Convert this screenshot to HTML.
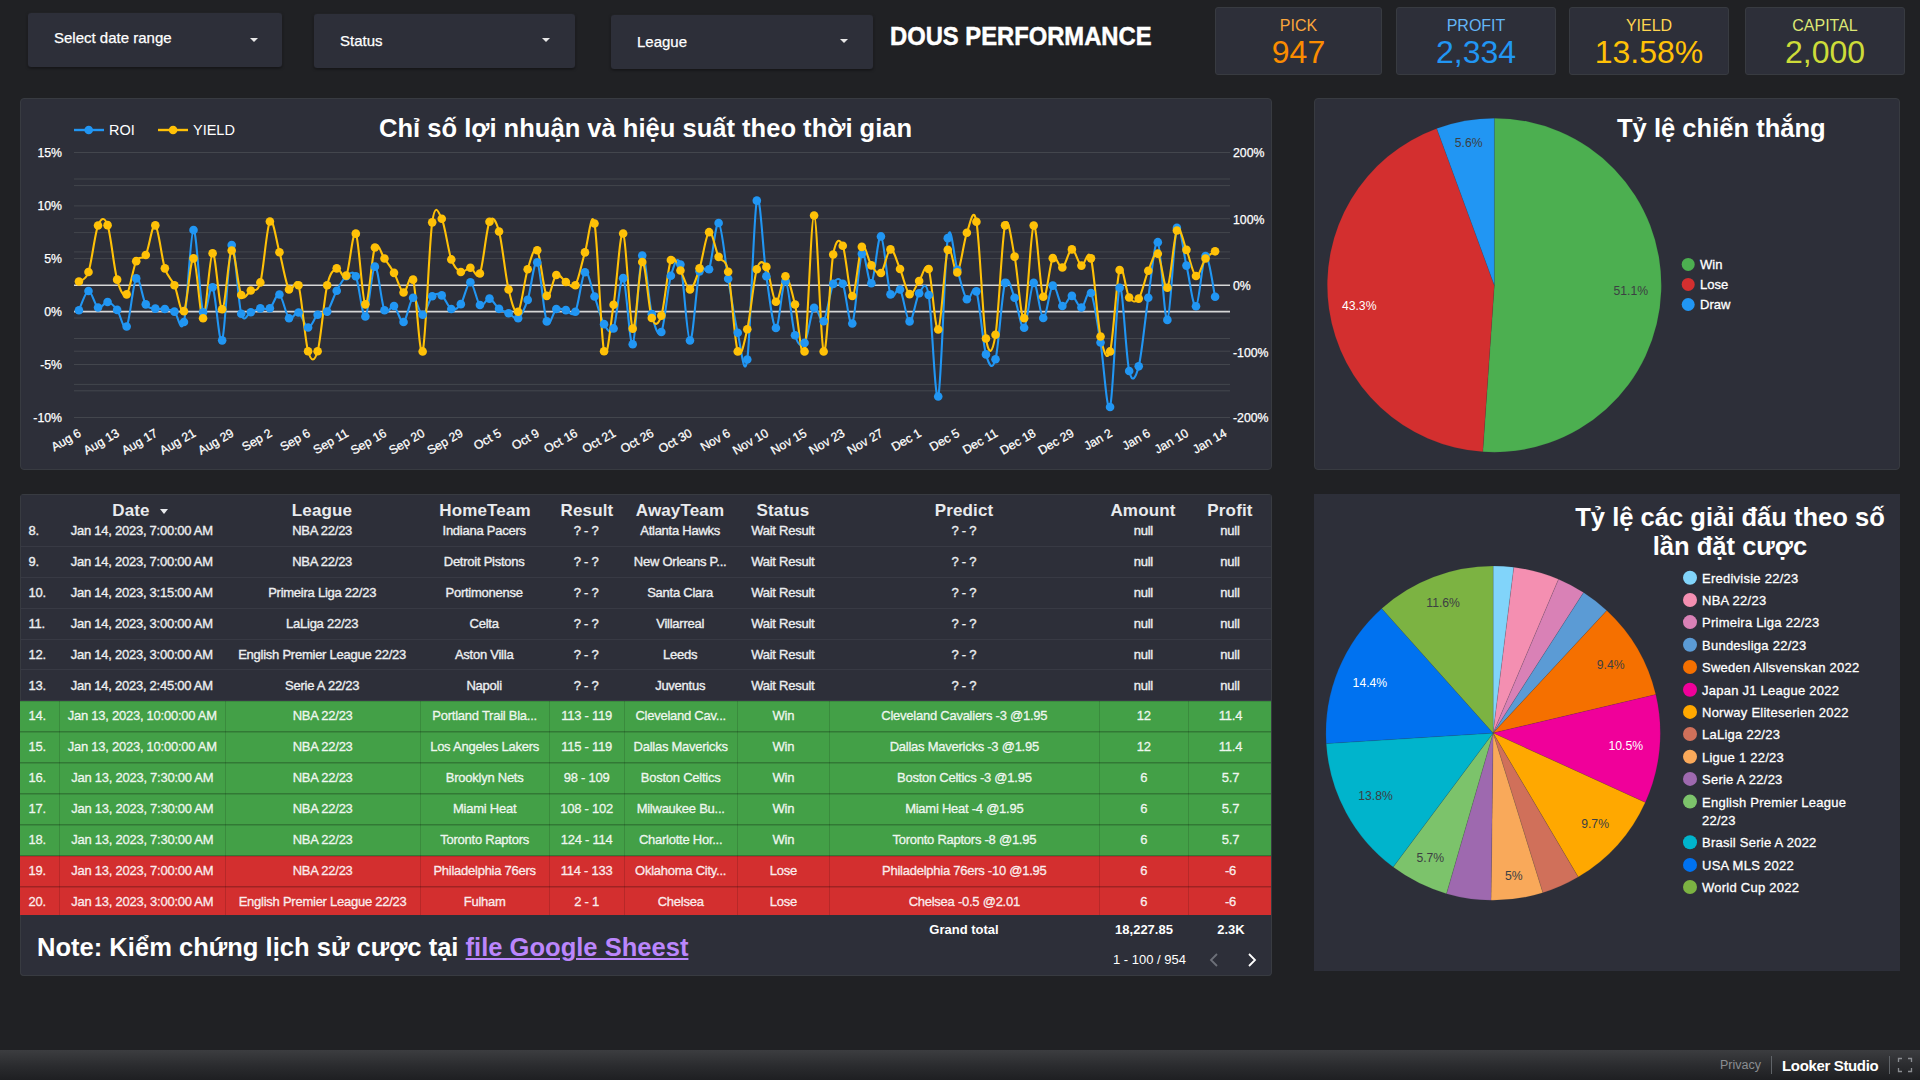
<!DOCTYPE html>
<html><head><meta charset="utf-8"><title>DOUS PERFORMANCE</title>
<style>
*{box-sizing:border-box;margin:0;padding:0}
html,body{width:1920px;height:1080px;overflow:hidden;background:#202124;font-family:"Liberation Sans",sans-serif;color:#fff}
.abs{position:absolute}
.panel{position:absolute;background:#2d2f39;border:1px solid #383b41;border-radius:4px}
.dd{position:absolute;background:#2d2f39;border-radius:3px;box-shadow:0 1px 3px rgba(0,0,0,.55),0 0 0 1px rgba(255,255,255,.02);height:54px}
.dd span{position:absolute;left:26px;top:17px;font-size:15px;color:#fff;white-space:nowrap;-webkit-text-stroke:0.25px #fff}
.dd i{position:absolute;right:25px;top:24px;width:0;height:0;border-left:4.5px solid transparent;border-right:4.5px solid transparent;border-top:4.5px solid #e8e8e8}
.title{position:absolute;left:889.7px;top:19px;font-size:26.5px;transform:scaleX(.897);-webkit-text-stroke:0.5px #fff;font-weight:bold;white-space:nowrap;line-height:34px;transform-origin:0 50%}
.sc{position:absolute;top:7px;height:68px;background:#2d2f39;border:1px solid #383b41;border-radius:3px;text-align:center}
.sc .l{font-size:16px;line-height:18px;margin-top:9px}
.sc .v{font-size:32px;line-height:34px;margin-top:0px}
svg text{font-family:"Liberation Sans",sans-serif}
.ax{font-size:12.3px;fill:#fff;stroke:#fff;stroke-width:0.25px}
.lg{font-size:14.5px;fill:#fff;font-family:"Liberation Sans",sans-serif}
.lg2{font-size:13px;fill:#fff;stroke:#fff;stroke-width:0.3px;letter-spacing:0.25px}
.pl{font-size:12.2px}
.ct{position:absolute;font-size:25.56px;font-weight:bold;white-space:nowrap;line-height:29px;color:#fff}
.tbl{position:absolute;left:20px;top:494px;width:1252px;height:482px;background:#2d2f39;box-shadow:inset 0 0 0 1px #383b41;border-radius:4px;overflow:hidden}
.tbody{position:absolute;left:0;top:0;width:1251px;height:421.4px;overflow:hidden}
.tr{position:absolute;left:0;width:1251px;border-bottom:1px solid #383a44}
.tr.g{background:#43a047;border-bottom:1px solid rgba(0,0,0,.24);border-top:1px solid rgba(0,0,0,.12)}
.tr.r{background:#d32f2f;border-bottom:1px solid rgba(0,0,0,.24);border-top:1px solid rgba(0,0,0,.12)}
.td{position:absolute;top:0;height:100%;text-align:center;font-size:13px;font-weight:normal;color:#eceef0;-webkit-text-stroke:0.35px #eceef0;letter-spacing:-0.25px;white-space:nowrap;overflow:hidden;line-height:30px}
.td span{display:inline-block;margin-left:-1px}
.td.num{text-align:left;padding-left:9px}
.tr.g .td,.tr.r .td{border-left:1px solid rgba(0,0,0,.13);top:-1px;height:calc(100% + 2px)}
.tr.g .td.num,.tr.r .td.num{border-left:none}
.tr.g .td,.tr.r .td{color:rgba(255,255,255,.86);-webkit-text-stroke:0.35px rgba(255,255,255,.86)}
.thead{position:absolute;left:1px;top:1px;width:1250px;height:26px;background:#2d2f39}
.th{position:absolute;top:5px;width:200px;text-align:center;font-size:17px;letter-spacing:0.15px;font-weight:bold;line-height:22px;color:#e8eaed;white-space:nowrap}
.sa{display:inline-block;width:0;height:0;border-left:4px solid transparent;border-right:4px solid transparent;border-top:5px solid #e8eaed;}
.foot{position:absolute;font-size:13px;font-weight:bold;text-align:center;white-space:nowrap}
.note{position:absolute;left:17px;top:438px;font-size:25.56px;font-weight:bold;white-space:nowrap;line-height:30px;transform-origin:0 50%}
.note a{color:#bb86fc;text-decoration:underline}
.bar{position:absolute;left:0;top:1050px;width:1920px;height:30px;background:linear-gradient(#3c3d40 0%,#2a2b2e 55%,#1e1f22 100%)}
</style></head><body>
<div class="dd" style="left:28px;top:13px;width:254px"><span style="top:16px">Select date range</span><i style="top:24.5px;right:24px"></i></div>
<div class="dd" style="left:314px;top:14px;width:261px"><span style="top:18px">Status</span><i></i></div>
<div class="dd" style="left:611px;top:15px;width:262px"><span style="top:18px">League</span><i></i></div>
<div class="title" id="title">DOUS PERFORMANCE</div>
<div class="sc" style="left:1215px;width:167px;color:#fb8c00"><div class="l" style="color:#fba63c">PICK</div><div class="v">947</div></div>
<div class="sc" style="left:1396px;width:160px;color:#2196f3"><div class="l" style="color:#64b5f6">PROFIT</div><div class="v">2,334</div></div>
<div class="sc" style="left:1569px;width:160px;color:#ffc107"><div class="l" style="color:#ffd54f">YIELD</div><div class="v">13.58%</div></div>
<div class="sc" style="left:1745px;width:160px;color:#cddc39"><div class="l" style="color:#dce775">CAPITAL</div><div class="v">2,000</div></div>

<div class="panel" style="left:20px;top:98px;width:1252px;height:372px"></div>
<div class="panel" style="left:1314px;top:98px;width:586px;height:372px"></div>
<div class="panel" style="left:1314px;top:494px;width:586px;height:477px;border-radius:0;border-color:#2d2f39"></div>

<svg class="abs" style="left:0;top:0" width="1920" height="1080" viewBox="0 0 1920 1080">
<line x1="74" x2="1230" y1="152.5" y2="152.5" stroke="#43464d" stroke-width="1"/>
<line x1="74" x2="1230" y1="179.0" y2="179.0" stroke="#43464d" stroke-width="1"/>
<line x1="74" x2="1230" y1="185.6" y2="185.6" stroke="#43464d" stroke-width="1"/>
<line x1="74" x2="1230" y1="205.9" y2="205.9" stroke="#43464d" stroke-width="1"/>
<line x1="74" x2="1230" y1="218.7" y2="218.7" stroke="#43464d" stroke-width="1"/>
<line x1="74" x2="1230" y1="232.6" y2="232.6" stroke="#43464d" stroke-width="1"/>
<line x1="74" x2="1230" y1="251.9" y2="251.9" stroke="#43464d" stroke-width="1"/>
<line x1="74" x2="1230" y1="258.6" y2="258.6" stroke="#43464d" stroke-width="1"/>
<line x1="74" x2="1230" y1="318.0" y2="318.0" stroke="#43464d" stroke-width="1"/>
<line x1="74" x2="1230" y1="338.5" y2="338.5" stroke="#43464d" stroke-width="1"/>
<line x1="74" x2="1230" y1="351.2" y2="351.2" stroke="#43464d" stroke-width="1"/>
<line x1="74" x2="1230" y1="364.5" y2="364.5" stroke="#43464d" stroke-width="1"/>
<line x1="74" x2="1230" y1="384.4" y2="384.4" stroke="#43464d" stroke-width="1"/>
<line x1="74" x2="1230" y1="390.8" y2="390.8" stroke="#43464d" stroke-width="1"/>
<line x1="74" x2="1230" y1="417.5" y2="417.5" stroke="#43464d" stroke-width="1"/>
<line x1="74" x2="1230" y1="285.2" y2="285.2" stroke="#d6d6d6" stroke-width="1.6"/>
<line x1="74" x2="1230" y1="311.6" y2="311.6" stroke="#d6d6d6" stroke-width="1.6"/>
<path d="M78.94,310.32C80.53,307.09 85.31,291.40 88.49,290.94C91.67,290.48 94.86,305.71 98.04,307.55C101.22,309.39 104.40,301.62 107.58,302.01C110.76,302.40 113.95,305.81 117.13,309.89C120.31,313.97 123.50,331.75 126.68,326.50C129.86,321.25 133.05,282.07 136.23,278.38C139.41,274.69 142.59,299.32 145.77,304.36C148.95,309.40 152.14,307.84 155.32,308.62C158.50,309.40 161.69,308.54 164.87,309.04C168.05,309.54 171.24,309.44 174.42,311.60C177.60,313.76 180.78,335.62 183.96,322.03C187.14,308.44 190.33,231.67 193.51,230.04C196.69,228.41 199.88,302.69 203.06,312.24C206.24,321.79 209.43,282.63 212.61,287.32C215.79,292.00 218.97,347.41 222.15,340.35C225.33,333.29 228.52,249.38 231.70,244.94C234.88,240.50 238.07,302.51 241.25,313.73C244.43,324.95 247.62,313.13 250.80,312.24C253.98,311.35 257.16,309.07 260.34,308.40C263.52,307.72 266.71,310.50 269.89,308.19C273.07,305.88 276.26,292.89 279.44,294.56C282.62,296.23 285.81,315.22 288.99,318.20C292.17,321.18 295.35,310.89 298.53,312.45C301.71,314.01 304.90,327.18 308.08,327.57C311.26,327.96 314.45,317.45 317.63,314.79C320.81,312.13 324.00,315.61 327.18,311.60C330.36,307.59 333.54,296.62 336.72,290.73C339.90,284.84 343.09,278.66 346.27,276.25C349.45,273.84 352.64,269.54 355.82,276.25C359.00,282.96 362.19,318.10 365.37,316.50C368.55,314.90 371.73,267.69 374.91,266.66C378.09,265.63 381.28,303.75 384.46,310.32C387.64,316.89 390.83,304.11 394.01,306.06C397.19,308.01 400.38,323.41 403.56,322.03C406.74,320.65 409.92,298.97 413.10,297.76C416.28,296.55 419.47,315.04 422.65,314.79C425.83,314.54 429.02,299.49 432.20,296.26C435.38,293.03 438.57,293.28 441.75,295.41C444.93,297.54 448.11,307.59 451.29,309.04C454.47,310.50 457.66,308.61 460.84,304.14C464.02,299.67 467.21,282.07 470.39,282.21C473.57,282.35 476.76,302.27 479.94,305.00C483.12,307.73 486.31,297.97 489.49,298.61C492.67,299.25 495.85,306.38 499.03,308.83C502.21,311.28 505.40,311.74 508.58,313.30C511.76,314.86 514.95,320.44 518.13,318.20C521.31,315.96 524.50,309.18 527.68,299.88C530.86,290.58 534.04,258.81 537.22,262.40C540.40,265.98 543.59,313.62 546.77,321.39C549.95,329.16 553.14,310.92 556.32,309.04C559.50,307.16 562.69,309.65 565.87,310.11C569.05,310.57 572.23,318.13 575.41,311.81C578.59,305.49 581.78,274.75 584.96,272.20C588.14,269.64 591.33,287.82 594.51,296.48C597.69,305.14 600.88,318.84 604.06,324.16C607.24,329.48 610.42,336.09 613.60,328.42C616.78,320.75 619.97,275.53 623.15,278.16C626.33,280.79 629.52,347.94 632.70,344.18C635.88,340.42 639.07,260.60 642.25,255.59C645.43,250.59 648.61,301.41 651.79,314.15C654.97,326.89 658.16,338.43 661.34,332.04C664.52,325.65 667.71,287.07 670.89,275.82C674.07,264.57 677.26,253.74 680.44,264.53C683.62,275.32 686.80,339.42 689.98,340.56C693.16,341.70 696.35,283.24 699.53,271.35C702.71,259.46 705.90,277.28 709.08,269.22C712.26,261.16 715.45,221.41 718.63,223.01C721.81,224.61 724.99,260.52 728.17,278.80C731.35,297.08 734.54,319.23 737.72,332.68C740.90,346.13 744.09,381.51 747.27,359.51C750.45,337.50 753.64,214.53 756.82,200.65C760.00,186.77 763.18,255.03 766.36,276.25C769.54,297.47 772.73,327.18 775.91,327.99C779.09,328.81 782.28,279.93 785.46,281.14C788.64,282.35 791.83,324.95 795.01,335.24C798.19,345.53 801.37,347.48 804.55,342.90C807.73,338.32 810.92,311.38 814.10,307.76C817.28,304.14 820.47,325.15 823.65,321.18C826.83,317.21 830.02,290.16 833.20,283.91C836.38,277.66 839.57,277.10 842.75,283.70C845.93,290.30 849.11,328.49 852.29,323.52C855.47,318.55 858.66,260.60 861.84,253.89C865.02,247.18 868.21,286.18 871.39,283.27C874.57,280.36 877.76,234.57 880.94,236.42C884.12,238.27 887.30,285.51 890.48,294.35C893.66,303.19 896.85,284.94 900.03,289.45C903.21,293.96 906.40,320.75 909.58,321.39C912.76,322.03 915.95,297.68 919.13,293.28C922.31,288.88 925.49,277.77 928.67,294.99C931.85,312.21 935.04,406.05 938.22,396.57C941.40,387.09 944.59,259.25 947.77,238.13C950.95,217.01 954.14,259.67 957.32,269.86C960.50,280.05 963.68,295.67 966.86,299.25C970.04,302.83 973.23,282.18 976.41,291.37C979.59,300.56 982.78,343.08 985.96,354.40C989.14,365.72 992.33,371.23 995.51,359.30C998.69,347.38 1001.87,293.11 1005.05,282.85C1008.23,272.59 1011.42,290.27 1014.60,297.76C1017.78,305.25 1020.97,330.26 1024.15,327.78C1027.33,325.29 1030.52,284.48 1033.70,282.85C1036.88,281.22 1040.06,317.53 1043.24,317.99C1046.42,318.45 1049.61,287.61 1052.79,285.62C1055.97,283.63 1059.16,304.36 1062.34,306.06C1065.52,307.76 1068.71,295.59 1071.89,295.84C1075.07,296.09 1078.25,308.01 1081.43,307.55C1084.61,307.09 1087.80,287.25 1090.98,293.07C1094.16,298.89 1097.35,323.49 1100.53,342.48C1103.71,361.47 1106.90,416.12 1110.08,407.00C1113.26,397.88 1116.44,293.75 1119.62,287.75C1122.80,281.75 1125.99,357.91 1129.17,371.01C1132.35,384.11 1135.54,378.54 1138.72,366.33C1141.90,354.12 1145.09,318.45 1148.27,297.76C1151.45,277.07 1154.63,238.48 1157.81,242.17C1160.99,245.86 1164.18,322.28 1167.36,319.90C1170.54,317.52 1173.73,236.96 1176.91,227.91C1180.09,218.86 1183.28,252.54 1186.46,265.60C1189.64,278.66 1192.82,307.87 1196.00,306.27C1199.18,304.67 1202.37,257.62 1205.55,256.02C1208.73,254.42 1213.51,289.91 1215.10,296.69" fill="none" stroke="#2196f3" stroke-width="2.1" stroke-linejoin="round"/>
<path d="M78.94,281.57C80.53,279.97 85.31,281.32 88.49,271.99C91.67,262.66 94.86,233.37 98.04,225.56C101.22,217.75 104.40,216.12 107.58,225.14C110.76,234.15 113.95,268.11 117.13,279.65C120.31,291.19 123.50,297.44 126.68,294.35C129.86,291.26 133.05,267.70 136.23,261.13C139.41,254.56 142.59,260.91 145.77,254.95C148.95,248.99 152.14,223.11 155.32,225.35C158.50,227.59 161.69,258.40 164.87,268.37C168.05,278.34 171.24,278.06 174.42,285.19C177.60,292.32 180.78,315.64 183.96,311.17C187.14,306.70 190.33,257.19 193.51,258.36C196.69,259.53 199.88,319.05 203.06,318.20C206.24,317.35 209.43,254.74 212.61,253.25C215.79,251.76 218.97,309.71 222.15,309.25C225.33,308.79 228.52,252.86 231.70,250.48C234.88,248.10 238.07,288.32 241.25,294.99C244.43,301.66 247.62,292.61 250.80,290.51C253.98,288.41 257.16,293.92 260.34,282.42C263.52,270.92 266.71,226.56 269.89,221.52C273.07,216.48 276.26,240.86 279.44,252.18C282.62,263.50 285.81,283.95 288.99,289.45C292.17,294.95 295.35,274.90 298.53,285.19C301.71,295.48 304.90,340.21 308.08,351.21C311.26,362.21 314.45,362.21 317.63,351.21C320.81,340.21 324.00,299.00 327.18,285.19C330.36,271.38 333.54,269.97 336.72,268.37C339.90,266.77 343.09,281.40 346.27,275.61C349.45,269.82 352.64,228.87 355.82,233.66C359.00,238.45 362.19,302.05 365.37,304.36C368.55,306.67 371.73,255.13 374.91,247.50C378.09,239.87 381.28,254.35 384.46,258.57C387.64,262.79 390.83,267.20 394.01,272.84C397.19,278.48 400.38,291.30 403.56,292.43C406.74,293.56 409.92,269.82 413.10,279.65C416.28,289.48 419.47,360.97 422.65,351.42C425.83,341.87 429.02,244.48 432.20,222.37C435.38,200.26 438.57,212.57 441.75,218.75C444.93,224.93 448.11,250.55 451.29,259.42C454.47,268.29 457.66,270.61 460.84,271.99C464.02,273.38 467.21,267.48 470.39,267.73C473.57,267.98 476.76,281.15 479.94,273.48C483.12,265.81 486.31,228.72 489.49,221.73C492.67,214.74 495.85,220.24 499.03,231.53C502.21,242.82 505.40,276.07 508.58,289.45C511.76,302.83 514.95,315.18 518.13,311.81C521.31,308.44 524.50,279.48 527.68,269.22C530.86,258.96 534.04,245.83 537.22,250.27C540.40,254.71 543.59,291.72 546.77,295.84C549.95,299.96 553.14,277.28 556.32,274.97C559.50,272.66 562.69,280.30 565.87,282.00C569.05,283.70 572.23,290.12 575.41,285.19C578.59,280.26 581.78,262.69 584.96,252.40C588.14,242.11 591.33,206.96 594.51,223.43C597.69,239.90 600.88,337.65 604.06,351.21C607.24,364.77 610.42,324.41 613.60,304.78C616.78,285.15 619.97,229.47 623.15,233.44C626.33,237.41 629.52,323.87 632.70,328.63C635.88,333.39 639.07,263.75 642.25,261.98C645.43,260.21 648.61,309.05 651.79,317.99C654.97,326.93 658.16,325.29 661.34,315.64C664.52,305.99 667.71,267.58 670.89,260.06C674.07,252.54 677.26,265.60 680.44,270.50C683.62,275.40 686.80,289.81 689.98,289.45C693.16,289.09 696.35,277.92 699.53,268.37C702.71,258.82 705.90,234.09 709.08,232.17C712.26,230.25 715.45,250.27 718.63,256.87C721.81,263.47 724.99,256.01 728.17,271.77C731.35,287.53 734.54,341.84 737.72,351.42C740.90,361.00 744.09,342.97 747.27,329.27C750.45,315.57 753.64,279.62 756.82,269.22C760.00,258.82 763.18,261.45 766.36,266.88C769.54,272.31 772.73,300.24 775.91,301.80C779.09,303.36 782.28,275.79 785.46,276.25C788.64,276.71 791.83,292.04 795.01,304.57C798.19,317.10 801.37,366.26 804.55,351.42C807.73,336.58 810.92,215.55 814.10,215.55C817.28,215.55 820.47,344.92 823.65,351.42C826.83,357.92 830.02,272.13 833.20,254.53C836.38,236.93 839.57,238.87 842.75,245.79C845.93,252.71 849.11,295.87 852.29,296.05C855.47,296.23 858.66,251.97 861.84,246.86C865.02,241.75 868.21,261.02 871.39,265.39C874.57,269.75 877.76,275.71 880.94,273.05C884.12,270.39 887.30,250.08 890.48,249.41C893.66,248.74 896.85,261.56 900.03,269.01C903.21,276.46 906.40,292.14 909.58,294.13C912.76,296.12 915.95,285.12 919.13,280.93C922.31,276.74 925.49,260.92 928.67,269.01C931.85,277.10 935.04,332.69 938.22,329.49C941.40,326.30 944.59,259.35 947.77,249.84C950.95,240.33 954.14,275.25 957.32,272.41C960.50,269.57 963.68,241.25 966.86,232.80C970.04,224.35 973.23,204.12 976.41,221.73C979.59,239.33 982.78,319.58 985.96,338.43C989.14,357.28 992.33,353.66 995.51,334.81C998.69,315.96 1001.87,238.38 1005.05,225.35C1008.23,212.32 1011.42,241.17 1014.60,256.65C1017.78,272.12 1020.97,323.38 1024.15,318.20C1027.33,313.02 1030.52,229.15 1033.70,225.56C1036.88,221.97 1040.06,291.26 1043.24,296.69C1046.42,302.12 1049.61,263.01 1052.79,258.15C1055.97,253.29 1059.16,268.98 1062.34,267.52C1065.52,266.06 1068.71,249.73 1071.89,249.41C1075.07,249.09 1078.25,264.11 1081.43,265.60C1084.61,267.09 1087.80,246.54 1090.98,258.36C1094.16,270.18 1097.35,321.00 1100.53,336.51C1103.71,352.02 1106.90,362.49 1110.08,351.42C1113.26,340.35 1116.44,279.05 1119.62,270.07C1122.80,261.09 1125.99,292.78 1129.17,297.54C1132.35,302.30 1135.54,303.08 1138.72,298.61C1141.90,294.14 1145.09,278.20 1148.27,270.71C1151.45,263.22 1154.63,250.83 1157.81,253.67C1160.99,256.51 1164.18,291.62 1167.36,287.75C1170.54,283.88 1173.73,236.78 1176.91,230.46C1180.09,224.14 1183.28,242.25 1186.46,249.84C1189.64,257.44 1192.82,274.57 1196.00,276.03C1199.18,277.48 1202.37,262.69 1205.55,258.57C1208.73,254.45 1213.51,252.54 1215.10,251.33" fill="none" stroke="#ffc107" stroke-width="2.1" stroke-linejoin="round"/>
<circle cx="78.94" cy="310.32" r="4.3" fill="#2196f3"/>
<circle cx="88.49" cy="290.94" r="4.3" fill="#2196f3"/>
<circle cx="98.04" cy="307.55" r="4.3" fill="#2196f3"/>
<circle cx="107.58" cy="302.01" r="4.3" fill="#2196f3"/>
<circle cx="117.13" cy="309.89" r="4.3" fill="#2196f3"/>
<circle cx="126.68" cy="326.50" r="4.3" fill="#2196f3"/>
<circle cx="136.23" cy="278.38" r="4.3" fill="#2196f3"/>
<circle cx="145.77" cy="304.36" r="4.3" fill="#2196f3"/>
<circle cx="155.32" cy="308.62" r="4.3" fill="#2196f3"/>
<circle cx="164.87" cy="309.04" r="4.3" fill="#2196f3"/>
<circle cx="174.42" cy="311.60" r="4.3" fill="#2196f3"/>
<circle cx="183.96" cy="322.03" r="4.3" fill="#2196f3"/>
<circle cx="193.51" cy="230.04" r="4.3" fill="#2196f3"/>
<circle cx="203.06" cy="312.24" r="4.3" fill="#2196f3"/>
<circle cx="212.61" cy="287.32" r="4.3" fill="#2196f3"/>
<circle cx="222.15" cy="340.35" r="4.3" fill="#2196f3"/>
<circle cx="231.70" cy="244.94" r="4.3" fill="#2196f3"/>
<circle cx="241.25" cy="313.73" r="4.3" fill="#2196f3"/>
<circle cx="250.80" cy="312.24" r="4.3" fill="#2196f3"/>
<circle cx="260.34" cy="308.40" r="4.3" fill="#2196f3"/>
<circle cx="269.89" cy="308.19" r="4.3" fill="#2196f3"/>
<circle cx="279.44" cy="294.56" r="4.3" fill="#2196f3"/>
<circle cx="288.99" cy="318.20" r="4.3" fill="#2196f3"/>
<circle cx="298.53" cy="312.45" r="4.3" fill="#2196f3"/>
<circle cx="308.08" cy="327.57" r="4.3" fill="#2196f3"/>
<circle cx="317.63" cy="314.79" r="4.3" fill="#2196f3"/>
<circle cx="327.18" cy="311.60" r="4.3" fill="#2196f3"/>
<circle cx="336.72" cy="290.73" r="4.3" fill="#2196f3"/>
<circle cx="346.27" cy="276.25" r="4.3" fill="#2196f3"/>
<circle cx="355.82" cy="276.25" r="4.3" fill="#2196f3"/>
<circle cx="365.37" cy="316.50" r="4.3" fill="#2196f3"/>
<circle cx="374.91" cy="266.66" r="4.3" fill="#2196f3"/>
<circle cx="384.46" cy="310.32" r="4.3" fill="#2196f3"/>
<circle cx="394.01" cy="306.06" r="4.3" fill="#2196f3"/>
<circle cx="403.56" cy="322.03" r="4.3" fill="#2196f3"/>
<circle cx="413.10" cy="297.76" r="4.3" fill="#2196f3"/>
<circle cx="422.65" cy="314.79" r="4.3" fill="#2196f3"/>
<circle cx="432.20" cy="296.26" r="4.3" fill="#2196f3"/>
<circle cx="441.75" cy="295.41" r="4.3" fill="#2196f3"/>
<circle cx="451.29" cy="309.04" r="4.3" fill="#2196f3"/>
<circle cx="460.84" cy="304.14" r="4.3" fill="#2196f3"/>
<circle cx="470.39" cy="282.21" r="4.3" fill="#2196f3"/>
<circle cx="479.94" cy="305.00" r="4.3" fill="#2196f3"/>
<circle cx="489.49" cy="298.61" r="4.3" fill="#2196f3"/>
<circle cx="499.03" cy="308.83" r="4.3" fill="#2196f3"/>
<circle cx="508.58" cy="313.30" r="4.3" fill="#2196f3"/>
<circle cx="518.13" cy="318.20" r="4.3" fill="#2196f3"/>
<circle cx="527.68" cy="299.88" r="4.3" fill="#2196f3"/>
<circle cx="537.22" cy="262.40" r="4.3" fill="#2196f3"/>
<circle cx="546.77" cy="321.39" r="4.3" fill="#2196f3"/>
<circle cx="556.32" cy="309.04" r="4.3" fill="#2196f3"/>
<circle cx="565.87" cy="310.11" r="4.3" fill="#2196f3"/>
<circle cx="575.41" cy="311.81" r="4.3" fill="#2196f3"/>
<circle cx="584.96" cy="272.20" r="4.3" fill="#2196f3"/>
<circle cx="594.51" cy="296.48" r="4.3" fill="#2196f3"/>
<circle cx="604.06" cy="324.16" r="4.3" fill="#2196f3"/>
<circle cx="613.60" cy="328.42" r="4.3" fill="#2196f3"/>
<circle cx="623.15" cy="278.16" r="4.3" fill="#2196f3"/>
<circle cx="632.70" cy="344.18" r="4.3" fill="#2196f3"/>
<circle cx="642.25" cy="255.59" r="4.3" fill="#2196f3"/>
<circle cx="651.79" cy="314.15" r="4.3" fill="#2196f3"/>
<circle cx="661.34" cy="332.04" r="4.3" fill="#2196f3"/>
<circle cx="670.89" cy="275.82" r="4.3" fill="#2196f3"/>
<circle cx="680.44" cy="264.53" r="4.3" fill="#2196f3"/>
<circle cx="689.98" cy="340.56" r="4.3" fill="#2196f3"/>
<circle cx="699.53" cy="271.35" r="4.3" fill="#2196f3"/>
<circle cx="709.08" cy="269.22" r="4.3" fill="#2196f3"/>
<circle cx="718.63" cy="223.01" r="4.3" fill="#2196f3"/>
<circle cx="728.17" cy="278.80" r="4.3" fill="#2196f3"/>
<circle cx="737.72" cy="332.68" r="4.3" fill="#2196f3"/>
<circle cx="747.27" cy="359.51" r="4.3" fill="#2196f3"/>
<circle cx="756.82" cy="200.65" r="4.3" fill="#2196f3"/>
<circle cx="766.36" cy="276.25" r="4.3" fill="#2196f3"/>
<circle cx="775.91" cy="327.99" r="4.3" fill="#2196f3"/>
<circle cx="785.46" cy="281.14" r="4.3" fill="#2196f3"/>
<circle cx="795.01" cy="335.24" r="4.3" fill="#2196f3"/>
<circle cx="804.55" cy="342.90" r="4.3" fill="#2196f3"/>
<circle cx="814.10" cy="307.76" r="4.3" fill="#2196f3"/>
<circle cx="823.65" cy="321.18" r="4.3" fill="#2196f3"/>
<circle cx="833.20" cy="283.91" r="4.3" fill="#2196f3"/>
<circle cx="842.75" cy="283.70" r="4.3" fill="#2196f3"/>
<circle cx="852.29" cy="323.52" r="4.3" fill="#2196f3"/>
<circle cx="861.84" cy="253.89" r="4.3" fill="#2196f3"/>
<circle cx="871.39" cy="283.27" r="4.3" fill="#2196f3"/>
<circle cx="880.94" cy="236.42" r="4.3" fill="#2196f3"/>
<circle cx="890.48" cy="294.35" r="4.3" fill="#2196f3"/>
<circle cx="900.03" cy="289.45" r="4.3" fill="#2196f3"/>
<circle cx="909.58" cy="321.39" r="4.3" fill="#2196f3"/>
<circle cx="919.13" cy="293.28" r="4.3" fill="#2196f3"/>
<circle cx="928.67" cy="294.99" r="4.3" fill="#2196f3"/>
<circle cx="938.22" cy="396.57" r="4.3" fill="#2196f3"/>
<circle cx="947.77" cy="238.13" r="4.3" fill="#2196f3"/>
<circle cx="957.32" cy="269.86" r="4.3" fill="#2196f3"/>
<circle cx="966.86" cy="299.25" r="4.3" fill="#2196f3"/>
<circle cx="976.41" cy="291.37" r="4.3" fill="#2196f3"/>
<circle cx="985.96" cy="354.40" r="4.3" fill="#2196f3"/>
<circle cx="995.51" cy="359.30" r="4.3" fill="#2196f3"/>
<circle cx="1005.05" cy="282.85" r="4.3" fill="#2196f3"/>
<circle cx="1014.60" cy="297.76" r="4.3" fill="#2196f3"/>
<circle cx="1024.15" cy="327.78" r="4.3" fill="#2196f3"/>
<circle cx="1033.70" cy="282.85" r="4.3" fill="#2196f3"/>
<circle cx="1043.24" cy="317.99" r="4.3" fill="#2196f3"/>
<circle cx="1052.79" cy="285.62" r="4.3" fill="#2196f3"/>
<circle cx="1062.34" cy="306.06" r="4.3" fill="#2196f3"/>
<circle cx="1071.89" cy="295.84" r="4.3" fill="#2196f3"/>
<circle cx="1081.43" cy="307.55" r="4.3" fill="#2196f3"/>
<circle cx="1090.98" cy="293.07" r="4.3" fill="#2196f3"/>
<circle cx="1100.53" cy="342.48" r="4.3" fill="#2196f3"/>
<circle cx="1110.08" cy="407.00" r="4.3" fill="#2196f3"/>
<circle cx="1119.62" cy="287.75" r="4.3" fill="#2196f3"/>
<circle cx="1129.17" cy="371.01" r="4.3" fill="#2196f3"/>
<circle cx="1138.72" cy="366.33" r="4.3" fill="#2196f3"/>
<circle cx="1148.27" cy="297.76" r="4.3" fill="#2196f3"/>
<circle cx="1157.81" cy="242.17" r="4.3" fill="#2196f3"/>
<circle cx="1167.36" cy="319.90" r="4.3" fill="#2196f3"/>
<circle cx="1176.91" cy="227.91" r="4.3" fill="#2196f3"/>
<circle cx="1186.46" cy="265.60" r="4.3" fill="#2196f3"/>
<circle cx="1196.00" cy="306.27" r="4.3" fill="#2196f3"/>
<circle cx="1205.55" cy="256.02" r="4.3" fill="#2196f3"/>
<circle cx="1215.10" cy="296.69" r="4.3" fill="#2196f3"/>
<circle cx="78.94" cy="281.57" r="4.3" fill="#ffc107"/>
<circle cx="88.49" cy="271.99" r="4.3" fill="#ffc107"/>
<circle cx="98.04" cy="225.56" r="4.3" fill="#ffc107"/>
<circle cx="107.58" cy="225.14" r="4.3" fill="#ffc107"/>
<circle cx="117.13" cy="279.65" r="4.3" fill="#ffc107"/>
<circle cx="126.68" cy="294.35" r="4.3" fill="#ffc107"/>
<circle cx="136.23" cy="261.13" r="4.3" fill="#ffc107"/>
<circle cx="145.77" cy="254.95" r="4.3" fill="#ffc107"/>
<circle cx="155.32" cy="225.35" r="4.3" fill="#ffc107"/>
<circle cx="164.87" cy="268.37" r="4.3" fill="#ffc107"/>
<circle cx="174.42" cy="285.19" r="4.3" fill="#ffc107"/>
<circle cx="183.96" cy="311.17" r="4.3" fill="#ffc107"/>
<circle cx="193.51" cy="258.36" r="4.3" fill="#ffc107"/>
<circle cx="203.06" cy="318.20" r="4.3" fill="#ffc107"/>
<circle cx="212.61" cy="253.25" r="4.3" fill="#ffc107"/>
<circle cx="222.15" cy="309.25" r="4.3" fill="#ffc107"/>
<circle cx="231.70" cy="250.48" r="4.3" fill="#ffc107"/>
<circle cx="241.25" cy="294.99" r="4.3" fill="#ffc107"/>
<circle cx="250.80" cy="290.51" r="4.3" fill="#ffc107"/>
<circle cx="260.34" cy="282.42" r="4.3" fill="#ffc107"/>
<circle cx="269.89" cy="221.52" r="4.3" fill="#ffc107"/>
<circle cx="279.44" cy="252.18" r="4.3" fill="#ffc107"/>
<circle cx="288.99" cy="289.45" r="4.3" fill="#ffc107"/>
<circle cx="298.53" cy="285.19" r="4.3" fill="#ffc107"/>
<circle cx="308.08" cy="351.21" r="4.3" fill="#ffc107"/>
<circle cx="317.63" cy="351.21" r="4.3" fill="#ffc107"/>
<circle cx="327.18" cy="285.19" r="4.3" fill="#ffc107"/>
<circle cx="336.72" cy="268.37" r="4.3" fill="#ffc107"/>
<circle cx="346.27" cy="275.61" r="4.3" fill="#ffc107"/>
<circle cx="355.82" cy="233.66" r="4.3" fill="#ffc107"/>
<circle cx="365.37" cy="304.36" r="4.3" fill="#ffc107"/>
<circle cx="374.91" cy="247.50" r="4.3" fill="#ffc107"/>
<circle cx="384.46" cy="258.57" r="4.3" fill="#ffc107"/>
<circle cx="394.01" cy="272.84" r="4.3" fill="#ffc107"/>
<circle cx="403.56" cy="292.43" r="4.3" fill="#ffc107"/>
<circle cx="413.10" cy="279.65" r="4.3" fill="#ffc107"/>
<circle cx="422.65" cy="351.42" r="4.3" fill="#ffc107"/>
<circle cx="432.20" cy="222.37" r="4.3" fill="#ffc107"/>
<circle cx="441.75" cy="218.75" r="4.3" fill="#ffc107"/>
<circle cx="451.29" cy="259.42" r="4.3" fill="#ffc107"/>
<circle cx="460.84" cy="271.99" r="4.3" fill="#ffc107"/>
<circle cx="470.39" cy="267.73" r="4.3" fill="#ffc107"/>
<circle cx="479.94" cy="273.48" r="4.3" fill="#ffc107"/>
<circle cx="489.49" cy="221.73" r="4.3" fill="#ffc107"/>
<circle cx="499.03" cy="231.53" r="4.3" fill="#ffc107"/>
<circle cx="508.58" cy="289.45" r="4.3" fill="#ffc107"/>
<circle cx="518.13" cy="311.81" r="4.3" fill="#ffc107"/>
<circle cx="527.68" cy="269.22" r="4.3" fill="#ffc107"/>
<circle cx="537.22" cy="250.27" r="4.3" fill="#ffc107"/>
<circle cx="546.77" cy="295.84" r="4.3" fill="#ffc107"/>
<circle cx="556.32" cy="274.97" r="4.3" fill="#ffc107"/>
<circle cx="565.87" cy="282.00" r="4.3" fill="#ffc107"/>
<circle cx="575.41" cy="285.19" r="4.3" fill="#ffc107"/>
<circle cx="584.96" cy="252.40" r="4.3" fill="#ffc107"/>
<circle cx="594.51" cy="223.43" r="4.3" fill="#ffc107"/>
<circle cx="604.06" cy="351.21" r="4.3" fill="#ffc107"/>
<circle cx="613.60" cy="304.78" r="4.3" fill="#ffc107"/>
<circle cx="623.15" cy="233.44" r="4.3" fill="#ffc107"/>
<circle cx="632.70" cy="328.63" r="4.3" fill="#ffc107"/>
<circle cx="642.25" cy="261.98" r="4.3" fill="#ffc107"/>
<circle cx="651.79" cy="317.99" r="4.3" fill="#ffc107"/>
<circle cx="661.34" cy="315.64" r="4.3" fill="#ffc107"/>
<circle cx="670.89" cy="260.06" r="4.3" fill="#ffc107"/>
<circle cx="680.44" cy="270.50" r="4.3" fill="#ffc107"/>
<circle cx="689.98" cy="289.45" r="4.3" fill="#ffc107"/>
<circle cx="699.53" cy="268.37" r="4.3" fill="#ffc107"/>
<circle cx="709.08" cy="232.17" r="4.3" fill="#ffc107"/>
<circle cx="718.63" cy="256.87" r="4.3" fill="#ffc107"/>
<circle cx="728.17" cy="271.77" r="4.3" fill="#ffc107"/>
<circle cx="737.72" cy="351.42" r="4.3" fill="#ffc107"/>
<circle cx="747.27" cy="329.27" r="4.3" fill="#ffc107"/>
<circle cx="756.82" cy="269.22" r="4.3" fill="#ffc107"/>
<circle cx="766.36" cy="266.88" r="4.3" fill="#ffc107"/>
<circle cx="775.91" cy="301.80" r="4.3" fill="#ffc107"/>
<circle cx="785.46" cy="276.25" r="4.3" fill="#ffc107"/>
<circle cx="795.01" cy="304.57" r="4.3" fill="#ffc107"/>
<circle cx="804.55" cy="351.42" r="4.3" fill="#ffc107"/>
<circle cx="814.10" cy="215.55" r="4.3" fill="#ffc107"/>
<circle cx="823.65" cy="351.42" r="4.3" fill="#ffc107"/>
<circle cx="833.20" cy="254.53" r="4.3" fill="#ffc107"/>
<circle cx="842.75" cy="245.79" r="4.3" fill="#ffc107"/>
<circle cx="852.29" cy="296.05" r="4.3" fill="#ffc107"/>
<circle cx="861.84" cy="246.86" r="4.3" fill="#ffc107"/>
<circle cx="871.39" cy="265.39" r="4.3" fill="#ffc107"/>
<circle cx="880.94" cy="273.05" r="4.3" fill="#ffc107"/>
<circle cx="890.48" cy="249.41" r="4.3" fill="#ffc107"/>
<circle cx="900.03" cy="269.01" r="4.3" fill="#ffc107"/>
<circle cx="909.58" cy="294.13" r="4.3" fill="#ffc107"/>
<circle cx="919.13" cy="280.93" r="4.3" fill="#ffc107"/>
<circle cx="928.67" cy="269.01" r="4.3" fill="#ffc107"/>
<circle cx="938.22" cy="329.49" r="4.3" fill="#ffc107"/>
<circle cx="947.77" cy="249.84" r="4.3" fill="#ffc107"/>
<circle cx="957.32" cy="272.41" r="4.3" fill="#ffc107"/>
<circle cx="966.86" cy="232.80" r="4.3" fill="#ffc107"/>
<circle cx="976.41" cy="221.73" r="4.3" fill="#ffc107"/>
<circle cx="985.96" cy="338.43" r="4.3" fill="#ffc107"/>
<circle cx="995.51" cy="334.81" r="4.3" fill="#ffc107"/>
<circle cx="1005.05" cy="225.35" r="4.3" fill="#ffc107"/>
<circle cx="1014.60" cy="256.65" r="4.3" fill="#ffc107"/>
<circle cx="1024.15" cy="318.20" r="4.3" fill="#ffc107"/>
<circle cx="1033.70" cy="225.56" r="4.3" fill="#ffc107"/>
<circle cx="1043.24" cy="296.69" r="4.3" fill="#ffc107"/>
<circle cx="1052.79" cy="258.15" r="4.3" fill="#ffc107"/>
<circle cx="1062.34" cy="267.52" r="4.3" fill="#ffc107"/>
<circle cx="1071.89" cy="249.41" r="4.3" fill="#ffc107"/>
<circle cx="1081.43" cy="265.60" r="4.3" fill="#ffc107"/>
<circle cx="1090.98" cy="258.36" r="4.3" fill="#ffc107"/>
<circle cx="1100.53" cy="336.51" r="4.3" fill="#ffc107"/>
<circle cx="1110.08" cy="351.42" r="4.3" fill="#ffc107"/>
<circle cx="1119.62" cy="270.07" r="4.3" fill="#ffc107"/>
<circle cx="1129.17" cy="297.54" r="4.3" fill="#ffc107"/>
<circle cx="1138.72" cy="298.61" r="4.3" fill="#ffc107"/>
<circle cx="1148.27" cy="270.71" r="4.3" fill="#ffc107"/>
<circle cx="1157.81" cy="253.67" r="4.3" fill="#ffc107"/>
<circle cx="1167.36" cy="287.75" r="4.3" fill="#ffc107"/>
<circle cx="1176.91" cy="230.46" r="4.3" fill="#ffc107"/>
<circle cx="1186.46" cy="249.84" r="4.3" fill="#ffc107"/>
<circle cx="1196.00" cy="276.03" r="4.3" fill="#ffc107"/>
<circle cx="1205.55" cy="258.57" r="4.3" fill="#ffc107"/>
<circle cx="1215.10" cy="251.33" r="4.3" fill="#ffc107"/>
<text x="62" y="157.0" text-anchor="end" class="ax">15%</text>
<text x="62" y="210.0" text-anchor="end" class="ax">10%</text>
<text x="62" y="263.0" text-anchor="end" class="ax">5%</text>
<text x="62" y="316.0" text-anchor="end" class="ax">0%</text>
<text x="62" y="369.0" text-anchor="end" class="ax">-5%</text>
<text x="62" y="422.0" text-anchor="end" class="ax">-10%</text>
<text x="1233" y="157.0" class="ax">200%</text>
<text x="1233" y="224.1" class="ax">100%</text>
<text x="1233" y="289.5" class="ax">0%</text>
<text x="1233" y="356.6" class="ax">-100%</text>
<text x="1233" y="422.0" class="ax">-200%</text>
<text transform="translate(82.0,435.5) rotate(-30)" text-anchor="end" class="ax">Aug 6</text>
<text transform="translate(120.2,435.5) rotate(-30)" text-anchor="end" class="ax">Aug 13</text>
<text transform="translate(158.4,435.5) rotate(-30)" text-anchor="end" class="ax">Aug 17</text>
<text transform="translate(196.6,435.5) rotate(-30)" text-anchor="end" class="ax">Aug 21</text>
<text transform="translate(234.8,435.5) rotate(-30)" text-anchor="end" class="ax">Aug 29</text>
<text transform="translate(272.9,435.5) rotate(-30)" text-anchor="end" class="ax">Sep 2</text>
<text transform="translate(311.1,435.5) rotate(-30)" text-anchor="end" class="ax">Sep 6</text>
<text transform="translate(349.3,435.5) rotate(-30)" text-anchor="end" class="ax">Sep 11</text>
<text transform="translate(387.5,435.5) rotate(-30)" text-anchor="end" class="ax">Sep 16</text>
<text transform="translate(425.7,435.5) rotate(-30)" text-anchor="end" class="ax">Sep 20</text>
<text transform="translate(463.9,435.5) rotate(-30)" text-anchor="end" class="ax">Sep 29</text>
<text transform="translate(502.1,435.5) rotate(-30)" text-anchor="end" class="ax">Oct 5</text>
<text transform="translate(540.3,435.5) rotate(-30)" text-anchor="end" class="ax">Oct 9</text>
<text transform="translate(578.5,435.5) rotate(-30)" text-anchor="end" class="ax">Oct 16</text>
<text transform="translate(616.7,435.5) rotate(-30)" text-anchor="end" class="ax">Oct 21</text>
<text transform="translate(654.8,435.5) rotate(-30)" text-anchor="end" class="ax">Oct 26</text>
<text transform="translate(693.0,435.5) rotate(-30)" text-anchor="end" class="ax">Oct 30</text>
<text transform="translate(731.2,435.5) rotate(-30)" text-anchor="end" class="ax">Nov 6</text>
<text transform="translate(769.4,435.5) rotate(-30)" text-anchor="end" class="ax">Nov 10</text>
<text transform="translate(807.6,435.5) rotate(-30)" text-anchor="end" class="ax">Nov 15</text>
<text transform="translate(845.8,435.5) rotate(-30)" text-anchor="end" class="ax">Nov 23</text>
<text transform="translate(884.0,435.5) rotate(-30)" text-anchor="end" class="ax">Nov 27</text>
<text transform="translate(922.2,435.5) rotate(-30)" text-anchor="end" class="ax">Dec 1</text>
<text transform="translate(960.4,435.5) rotate(-30)" text-anchor="end" class="ax">Dec 5</text>
<text transform="translate(998.6,435.5) rotate(-30)" text-anchor="end" class="ax">Dec 11</text>
<text transform="translate(1036.8,435.5) rotate(-30)" text-anchor="end" class="ax">Dec 18</text>
<text transform="translate(1074.9,435.5) rotate(-30)" text-anchor="end" class="ax">Dec 29</text>
<text transform="translate(1113.1,435.5) rotate(-30)" text-anchor="end" class="ax">Jan 2</text>
<text transform="translate(1151.3,435.5) rotate(-30)" text-anchor="end" class="ax">Jan 6</text>
<text transform="translate(1189.5,435.5) rotate(-30)" text-anchor="end" class="ax">Jan 10</text>
<text transform="translate(1227.7,435.5) rotate(-30)" text-anchor="end" class="ax">Jan 14</text>
<line x1="74" x2="104" y1="130" y2="130" stroke="#2196f3" stroke-width="2.4"/><circle cx="88.7" cy="130" r="4.3" fill="#2196f3"/>
<text x="109" y="134.5" class="lg">ROI</text>
<line x1="158" x2="188" y1="130" y2="130" stroke="#ffc107" stroke-width="2.4"/><circle cx="173.1" cy="130" r="4.3" fill="#ffc107"/>
<text x="193" y="134.5" class="lg">YIELD</text>
<path d="M1494.30,285.20 L1494.30,118.20 A167.00,167.00 0 1 1 1482.77,451.80 Z" fill="#4caf50" stroke="#2d2f39" stroke-opacity="0.3" stroke-width="0.4"/>
<path d="M1494.30,285.20 L1482.77,451.80 A167.00,167.00 0 0 1 1436.74,128.43 Z" fill="#d32f2f" stroke="#2d2f39" stroke-opacity="0.3" stroke-width="0.4"/>
<path d="M1494.30,285.20 L1436.74,128.43 A167.00,167.00 0 0 1 1494.30,118.20 Z" fill="#2196f3" stroke="#2d2f39" stroke-opacity="0.3" stroke-width="0.4"/>
<text x="1630.8" y="295.0" text-anchor="middle" class="pl" fill="#3c4043">51.1%</text>
<text x="1359.2" y="310.0" text-anchor="middle" class="pl" fill="#ffffff">43.3%</text>
<text x="1468.7" y="147.0" text-anchor="middle" class="pl" fill="#3c4043">5.6%</text>
<circle cx="1688.2" cy="264.4" r="6.5" fill="#4caf50"/><text x="1700" y="268.9" class="lg2" style="letter-spacing:0">Win</text>
<circle cx="1688.2" cy="284.4" r="6.5" fill="#d32f2f"/><text x="1700" y="288.9" class="lg2" style="letter-spacing:0">Lose</text>
<circle cx="1688.2" cy="304.5" r="6.5" fill="#2196f3"/><text x="1700" y="309.0" class="lg2" style="letter-spacing:0">Draw</text>
<path d="M1493.10,733.10 L1493.10,565.90 A167.20,167.20 0 0 1 1513.85,567.19 Z" fill="#81d4fa" stroke="#2d2f39" stroke-opacity="0.3" stroke-width="0.4"/>
<path d="M1493.10,733.10 L1513.85,567.19 A167.20,167.20 0 0 1 1558.54,579.24 Z" fill="#f48fb1" stroke="#2d2f39" stroke-opacity="0.3" stroke-width="0.4"/>
<path d="M1493.10,733.10 L1558.54,579.24 A167.20,167.20 0 0 1 1583.58,592.49 Z" fill="#d981b6" stroke="#2d2f39" stroke-opacity="0.3" stroke-width="0.4"/>
<path d="M1493.10,733.10 L1583.58,592.49 A167.20,167.20 0 0 1 1606.79,610.50 Z" fill="#5b9bd5" stroke="#2d2f39" stroke-opacity="0.3" stroke-width="0.4"/>
<path d="M1493.10,733.10 L1606.79,610.50 A167.20,167.20 0 0 1 1655.80,694.58 Z" fill="#f57000" stroke="#2d2f39" stroke-opacity="0.3" stroke-width="0.4"/>
<path d="M1493.10,733.10 L1655.80,694.58 A167.20,167.20 0 0 1 1645.27,802.38 Z" fill="#f0009a" stroke="#2d2f39" stroke-opacity="0.3" stroke-width="0.4"/>
<path d="M1493.10,733.10 L1645.27,802.38 A167.20,167.20 0 0 1 1578.21,877.02 Z" fill="#ffa800" stroke="#2d2f39" stroke-opacity="0.3" stroke-width="0.4"/>
<path d="M1493.10,733.10 L1578.21,877.02 A167.20,167.20 0 0 1 1542.77,892.75 Z" fill="#d0705a" stroke="#2d2f39" stroke-opacity="0.3" stroke-width="0.4"/>
<path d="M1493.10,733.10 L1542.77,892.75 A167.20,167.20 0 0 1 1491.00,900.29 Z" fill="#f9a95a" stroke="#2d2f39" stroke-opacity="0.3" stroke-width="0.4"/>
<path d="M1493.10,733.10 L1491.00,900.29 A167.20,167.20 0 0 1 1446.45,893.66 Z" fill="#9e69af" stroke="#2d2f39" stroke-opacity="0.3" stroke-width="0.4"/>
<path d="M1493.10,733.10 L1446.45,893.66 A167.20,167.20 0 0 1 1393.13,867.12 Z" fill="#7cc36b" stroke="#2d2f39" stroke-opacity="0.3" stroke-width="0.4"/>
<path d="M1493.10,733.10 L1393.13,867.12 A167.20,167.20 0 0 1 1326.23,743.60 Z" fill="#00b4cc" stroke="#2d2f39" stroke-opacity="0.3" stroke-width="0.4"/>
<path d="M1493.10,733.10 L1326.23,743.60 A167.20,167.20 0 0 1 1381.74,608.38 Z" fill="#0072f0" stroke="#2d2f39" stroke-opacity="0.3" stroke-width="0.4"/>
<path d="M1493.10,733.10 L1381.74,608.38 A167.20,167.20 0 0 1 1493.10,565.90 Z" fill="#7cb342" stroke="#2d2f39" stroke-opacity="0.3" stroke-width="0.4"/>
<text x="1443.1" y="607.3" text-anchor="middle" class="pl" fill="#3c4043">11.6%</text>
<text x="1610.7" y="668.7" text-anchor="middle" class="pl" fill="#3c4043">9.4%</text>
<text x="1625.8" y="750.4" text-anchor="middle" class="pl" fill="#ffffff">10.5%</text>
<text x="1595.1" y="828.3" text-anchor="middle" class="pl" fill="#3c4043">9.7%</text>
<text x="1513.9" y="880.2" text-anchor="middle" class="pl" fill="#3c4043">5%</text>
<text x="1430.3" y="862.3" text-anchor="middle" class="pl" fill="#3c4043">5.7%</text>
<text x="1375.6" y="799.9" text-anchor="middle" class="pl" fill="#3c4043">13.8%</text>
<text x="1369.9" y="686.6" text-anchor="middle" class="pl" fill="#ffffff">14.4%</text>
<circle cx="1690" cy="577.7" r="7" fill="#81d4fa"/>
<text x="1702" y="582.6" class="lg2">Eredivisie 22/23</text>
<circle cx="1690" cy="600.0" r="7" fill="#f48fb1"/>
<text x="1702" y="604.9" class="lg2">NBA 22/23</text>
<circle cx="1690" cy="622.1" r="7" fill="#d981b6"/>
<text x="1702" y="627.0" class="lg2">Primeira Liga 22/23</text>
<circle cx="1690" cy="644.8" r="7" fill="#5b9bd5"/>
<text x="1702" y="649.7" class="lg2">Bundesliga 22/23</text>
<circle cx="1690" cy="667.0" r="7" fill="#f57000"/>
<text x="1702" y="671.9" class="lg2">Sweden Allsvenskan 2022</text>
<circle cx="1690" cy="689.7" r="7" fill="#f0009a"/>
<text x="1702" y="694.6" class="lg2">Japan J1 League 2022</text>
<circle cx="1690" cy="711.9" r="7" fill="#ffa800"/>
<text x="1702" y="716.8" class="lg2">Norway Eliteserien 2022</text>
<circle cx="1690" cy="734.0" r="7" fill="#d0705a"/>
<text x="1702" y="738.9" class="lg2">LaLiga 22/23</text>
<circle cx="1690" cy="756.7" r="7" fill="#f9a95a"/>
<text x="1702" y="761.6" class="lg2">Ligue 1 22/23</text>
<circle cx="1690" cy="778.9" r="7" fill="#9e69af"/>
<text x="1702" y="783.8" class="lg2">Serie A 22/23</text>
<circle cx="1690" cy="801.6" r="7" fill="#7cc36b"/>
<text x="1702" y="806.5" class="lg2">English Premier League</text>
<text x="1702" y="824.5" class="lg2">22/23</text>
<circle cx="1690" cy="842.2" r="7" fill="#00b4cc"/>
<text x="1702" y="847.1" class="lg2">Brasil Serie A 2022</text>
<circle cx="1690" cy="864.9" r="7" fill="#0072f0"/>
<text x="1702" y="869.8" class="lg2">USA MLS 2022</text>
<circle cx="1690" cy="887.0" r="7" fill="#7cb342"/>
<text x="1702" y="891.9" class="lg2">World Cup 2022</text>
</svg>
<div class="ct" id="t1" style="left:379px;top:114px">Chỉ số lợi nhuận và hiệu suất theo thời gian</div>
<div class="ct" id="t2" style="left:1617px;top:114px">Tỷ lệ chiến thắng</div>
<div class="ct" id="t3" style="left:1560px;top:502.7px;width:340px;text-align:center;white-space:normal">Tỷ lệ các giải đấu theo số<br>lần đặt cược</div>

<div class="tbl">
<div class="tbody">
<div class="tr" style="top:22.00px;height:30.90px">
<div class="td num" style="left:0.5px;width:38.8px"><span>8.</span></div>
<div class="td" style="left:39.3px;width:166.0px"><span>Jan 14, 2023, 7:00:00 AM</span></div>
<div class="td" style="left:205.3px;width:194.7px"><span>NBA 22/23</span></div>
<div class="td" style="left:400.0px;width:129.3px"><span>Indiana Pacers</span></div>
<div class="td" style="left:529.3px;width:74.7px"><span>? - ?</span></div>
<div class="td" style="left:604.0px;width:113.3px"><span>Atlanta Hawks</span></div>
<div class="td" style="left:717.3px;width:92.0px"><span>Wait Result</span></div>
<div class="td" style="left:809.3px;width:270.0px"><span>? - ?</span></div>
<div class="td" style="left:1079.3px;width:89.0px"><span>null</span></div>
<div class="td" style="left:1168.3px;width:84.4px"><span>null</span></div>
</div>
<div class="tr" style="top:52.90px;height:30.90px">
<div class="td num" style="left:0.5px;width:38.8px"><span>9.</span></div>
<div class="td" style="left:39.3px;width:166.0px"><span>Jan 14, 2023, 7:00:00 AM</span></div>
<div class="td" style="left:205.3px;width:194.7px"><span>NBA 22/23</span></div>
<div class="td" style="left:400.0px;width:129.3px"><span>Detroit Pistons</span></div>
<div class="td" style="left:529.3px;width:74.7px"><span>? - ?</span></div>
<div class="td" style="left:604.0px;width:113.3px"><span>New Orleans P...</span></div>
<div class="td" style="left:717.3px;width:92.0px"><span>Wait Result</span></div>
<div class="td" style="left:809.3px;width:270.0px"><span>? - ?</span></div>
<div class="td" style="left:1079.3px;width:89.0px"><span>null</span></div>
<div class="td" style="left:1168.3px;width:84.4px"><span>null</span></div>
</div>
<div class="tr" style="top:83.80px;height:30.90px">
<div class="td num" style="left:0.5px;width:38.8px"><span>10.</span></div>
<div class="td" style="left:39.3px;width:166.0px"><span>Jan 14, 2023, 3:15:00 AM</span></div>
<div class="td" style="left:205.3px;width:194.7px"><span>Primeira Liga 22/23</span></div>
<div class="td" style="left:400.0px;width:129.3px"><span>Portimonense</span></div>
<div class="td" style="left:529.3px;width:74.7px"><span>? - ?</span></div>
<div class="td" style="left:604.0px;width:113.3px"><span>Santa Clara</span></div>
<div class="td" style="left:717.3px;width:92.0px"><span>Wait Result</span></div>
<div class="td" style="left:809.3px;width:270.0px"><span>? - ?</span></div>
<div class="td" style="left:1079.3px;width:89.0px"><span>null</span></div>
<div class="td" style="left:1168.3px;width:84.4px"><span>null</span></div>
</div>
<div class="tr" style="top:114.70px;height:30.90px">
<div class="td num" style="left:0.5px;width:38.8px"><span>11.</span></div>
<div class="td" style="left:39.3px;width:166.0px"><span>Jan 14, 2023, 3:00:00 AM</span></div>
<div class="td" style="left:205.3px;width:194.7px"><span>LaLiga 22/23</span></div>
<div class="td" style="left:400.0px;width:129.3px"><span>Celta</span></div>
<div class="td" style="left:529.3px;width:74.7px"><span>? - ?</span></div>
<div class="td" style="left:604.0px;width:113.3px"><span>Villarreal</span></div>
<div class="td" style="left:717.3px;width:92.0px"><span>Wait Result</span></div>
<div class="td" style="left:809.3px;width:270.0px"><span>? - ?</span></div>
<div class="td" style="left:1079.3px;width:89.0px"><span>null</span></div>
<div class="td" style="left:1168.3px;width:84.4px"><span>null</span></div>
</div>
<div class="tr" style="top:145.60px;height:30.90px">
<div class="td num" style="left:0.5px;width:38.8px"><span>12.</span></div>
<div class="td" style="left:39.3px;width:166.0px"><span>Jan 14, 2023, 3:00:00 AM</span></div>
<div class="td" style="left:205.3px;width:194.7px"><span>English Premier League 22/23</span></div>
<div class="td" style="left:400.0px;width:129.3px"><span>Aston Villa</span></div>
<div class="td" style="left:529.3px;width:74.7px"><span>? - ?</span></div>
<div class="td" style="left:604.0px;width:113.3px"><span>Leeds</span></div>
<div class="td" style="left:717.3px;width:92.0px"><span>Wait Result</span></div>
<div class="td" style="left:809.3px;width:270.0px"><span>? - ?</span></div>
<div class="td" style="left:1079.3px;width:89.0px"><span>null</span></div>
<div class="td" style="left:1168.3px;width:84.4px"><span>null</span></div>
</div>
<div class="tr" style="top:176.50px;height:30.90px">
<div class="td num" style="left:0.5px;width:38.8px"><span>13.</span></div>
<div class="td" style="left:39.3px;width:166.0px"><span>Jan 14, 2023, 2:45:00 AM</span></div>
<div class="td" style="left:205.3px;width:194.7px"><span>Serie A 22/23</span></div>
<div class="td" style="left:400.0px;width:129.3px"><span>Napoli</span></div>
<div class="td" style="left:529.3px;width:74.7px"><span>? - ?</span></div>
<div class="td" style="left:604.0px;width:113.3px"><span>Juventus</span></div>
<div class="td" style="left:717.3px;width:92.0px"><span>Wait Result</span></div>
<div class="td" style="left:809.3px;width:270.0px"><span>? - ?</span></div>
<div class="td" style="left:1079.3px;width:89.0px"><span>null</span></div>
<div class="td" style="left:1168.3px;width:84.4px"><span>null</span></div>
</div>
<div class="tr g" style="top:207.40px;height:30.90px">
<div class="td num" style="left:0.5px;width:38.8px"><span>14.</span></div>
<div class="td" style="left:39.3px;width:166.0px"><span>Jan 13, 2023, 10:00:00 AM</span></div>
<div class="td" style="left:205.3px;width:194.7px"><span>NBA 22/23</span></div>
<div class="td" style="left:400.0px;width:129.3px"><span>Portland Trail Bla...</span></div>
<div class="td" style="left:529.3px;width:74.7px"><span>113 - 119</span></div>
<div class="td" style="left:604.0px;width:113.3px"><span>Cleveland Cav...</span></div>
<div class="td" style="left:717.3px;width:92.0px"><span>Win</span></div>
<div class="td" style="left:809.3px;width:270.0px"><span>Cleveland Cavaliers -3 @1.95</span></div>
<div class="td" style="left:1079.3px;width:89.0px"><span>12</span></div>
<div class="td" style="left:1168.3px;width:84.4px"><span>11.4</span></div>
</div>
<div class="tr g" style="top:238.30px;height:30.90px">
<div class="td num" style="left:0.5px;width:38.8px"><span>15.</span></div>
<div class="td" style="left:39.3px;width:166.0px"><span>Jan 13, 2023, 10:00:00 AM</span></div>
<div class="td" style="left:205.3px;width:194.7px"><span>NBA 22/23</span></div>
<div class="td" style="left:400.0px;width:129.3px"><span>Los Angeles Lakers</span></div>
<div class="td" style="left:529.3px;width:74.7px"><span>115 - 119</span></div>
<div class="td" style="left:604.0px;width:113.3px"><span>Dallas Mavericks</span></div>
<div class="td" style="left:717.3px;width:92.0px"><span>Win</span></div>
<div class="td" style="left:809.3px;width:270.0px"><span>Dallas Mavericks -3 @1.95</span></div>
<div class="td" style="left:1079.3px;width:89.0px"><span>12</span></div>
<div class="td" style="left:1168.3px;width:84.4px"><span>11.4</span></div>
</div>
<div class="tr g" style="top:269.20px;height:30.90px">
<div class="td num" style="left:0.5px;width:38.8px"><span>16.</span></div>
<div class="td" style="left:39.3px;width:166.0px"><span>Jan 13, 2023, 7:30:00 AM</span></div>
<div class="td" style="left:205.3px;width:194.7px"><span>NBA 22/23</span></div>
<div class="td" style="left:400.0px;width:129.3px"><span>Brooklyn Nets</span></div>
<div class="td" style="left:529.3px;width:74.7px"><span>98 - 109</span></div>
<div class="td" style="left:604.0px;width:113.3px"><span>Boston Celtics</span></div>
<div class="td" style="left:717.3px;width:92.0px"><span>Win</span></div>
<div class="td" style="left:809.3px;width:270.0px"><span>Boston Celtics -3 @1.95</span></div>
<div class="td" style="left:1079.3px;width:89.0px"><span>6</span></div>
<div class="td" style="left:1168.3px;width:84.4px"><span>5.7</span></div>
</div>
<div class="tr g" style="top:300.10px;height:30.90px">
<div class="td num" style="left:0.5px;width:38.8px"><span>17.</span></div>
<div class="td" style="left:39.3px;width:166.0px"><span>Jan 13, 2023, 7:30:00 AM</span></div>
<div class="td" style="left:205.3px;width:194.7px"><span>NBA 22/23</span></div>
<div class="td" style="left:400.0px;width:129.3px"><span>Miami Heat</span></div>
<div class="td" style="left:529.3px;width:74.7px"><span>108 - 102</span></div>
<div class="td" style="left:604.0px;width:113.3px"><span>Milwaukee Bu...</span></div>
<div class="td" style="left:717.3px;width:92.0px"><span>Win</span></div>
<div class="td" style="left:809.3px;width:270.0px"><span>Miami Heat -4 @1.95</span></div>
<div class="td" style="left:1079.3px;width:89.0px"><span>6</span></div>
<div class="td" style="left:1168.3px;width:84.4px"><span>5.7</span></div>
</div>
<div class="tr g" style="top:331.00px;height:30.90px">
<div class="td num" style="left:0.5px;width:38.8px"><span>18.</span></div>
<div class="td" style="left:39.3px;width:166.0px"><span>Jan 13, 2023, 7:30:00 AM</span></div>
<div class="td" style="left:205.3px;width:194.7px"><span>NBA 22/23</span></div>
<div class="td" style="left:400.0px;width:129.3px"><span>Toronto Raptors</span></div>
<div class="td" style="left:529.3px;width:74.7px"><span>124 - 114</span></div>
<div class="td" style="left:604.0px;width:113.3px"><span>Charlotte Hor...</span></div>
<div class="td" style="left:717.3px;width:92.0px"><span>Win</span></div>
<div class="td" style="left:809.3px;width:270.0px"><span>Toronto Raptors -8 @1.95</span></div>
<div class="td" style="left:1079.3px;width:89.0px"><span>6</span></div>
<div class="td" style="left:1168.3px;width:84.4px"><span>5.7</span></div>
</div>
<div class="tr r" style="top:361.90px;height:30.90px">
<div class="td num" style="left:0.5px;width:38.8px"><span>19.</span></div>
<div class="td" style="left:39.3px;width:166.0px"><span>Jan 13, 2023, 7:00:00 AM</span></div>
<div class="td" style="left:205.3px;width:194.7px"><span>NBA 22/23</span></div>
<div class="td" style="left:400.0px;width:129.3px"><span>Philadelphia 76ers</span></div>
<div class="td" style="left:529.3px;width:74.7px"><span>114 - 133</span></div>
<div class="td" style="left:604.0px;width:113.3px"><span>Oklahoma City...</span></div>
<div class="td" style="left:717.3px;width:92.0px"><span>Lose</span></div>
<div class="td" style="left:809.3px;width:270.0px"><span>Philadelphia 76ers -10 @1.95</span></div>
<div class="td" style="left:1079.3px;width:89.0px"><span>6</span></div>
<div class="td" style="left:1168.3px;width:84.4px"><span>-6</span></div>
</div>
<div class="tr r" style="top:392.80px;height:30.90px">
<div class="td num" style="left:0.5px;width:38.8px"><span>20.</span></div>
<div class="td" style="left:39.3px;width:166.0px"><span>Jan 13, 2023, 3:00:00 AM</span></div>
<div class="td" style="left:205.3px;width:194.7px"><span>English Premier League 22/23</span></div>
<div class="td" style="left:400.0px;width:129.3px"><span>Fulham</span></div>
<div class="td" style="left:529.3px;width:74.7px"><span>2 - 1</span></div>
<div class="td" style="left:604.0px;width:113.3px"><span>Chelsea</span></div>
<div class="td" style="left:717.3px;width:92.0px"><span>Lose</span></div>
<div class="td" style="left:809.3px;width:270.0px"><span>Chelsea -0.5 @2.01</span></div>
<div class="td" style="left:1079.3px;width:89.0px"><span>6</span></div>
<div class="td" style="left:1168.3px;width:84.4px"><span>-6</span></div>
</div>
</div>
<div class="thead">
<div class="th" style="left:10.0px">Date</div>
<i class="sa" style="position:absolute;left:139.0px;top:14px"></i>
<div class="th" style="left:201.0px">League</div>
<div class="th" style="left:364.0px">HomeTeam</div>
<div class="th" style="left:466.0px">Result</div>
<div class="th" style="left:559.0px">AwayTeam</div>
<div class="th" style="left:662.0px">Status</div>
<div class="th" style="left:843.0px">Predict</div>
<div class="th" style="left:1022.0px">Amount</div>
<div class="th" style="left:1109.0px">Profit</div>
</div>
<div class="foot" style="left:844px;top:428px;width:200px">Grand total</div>
<div class="foot" style="left:1024px;top:428px;width:200px">18,227.85</div>
<div class="foot" style="left:1111px;top:428px;width:200px">2.3K</div>
<div class="foot" style="left:1093px;top:458px;font-weight:normal;text-align:left">1 - 100 / 954</div>
<svg class="abs" style="left:1185px;top:456px" width="60" height="20" viewBox="0 0 60 20"><path d="M12,4 L6,10 L12,16" fill="none" stroke="#6d7079" stroke-width="1.8"/><path d="M44,4 L50,10 L44,16" fill="none" stroke="#fff" stroke-width="1.8"/></svg>
<div class="note" id="note">Note: Kiểm chứng lịch sử cược tại <a>file Google Sheest</a></div>
</div>

<div class="bar">
<div class="abs" style="left:1720px;top:8px;font-size:12.5px;color:#8a8d91">Privacy</div>
<div class="abs" style="left:1771px;top:6px;width:1px;height:18px;background:#5f6368"></div>
<div class="abs" style="left:1782px;top:6.5px;font-size:15px;font-weight:bold;color:#fff;letter-spacing:-0.35px">Looker Studio</div>
<div class="abs" style="left:1889px;top:6px;width:1px;height:18px;background:#5f6368"></div>
<svg class="abs" style="left:1897px;top:7px" width="16" height="16" viewBox="0 0 16 16"><path d="M1.5,5 V1.5 H5 M11,1.5 H14.5 V5 M14.5,11 V14.5 H11 M5,14.5 H1.5 V11" fill="none" stroke="#8a8d91" stroke-width="1.3"/></svg>
</div>
</body></html>
